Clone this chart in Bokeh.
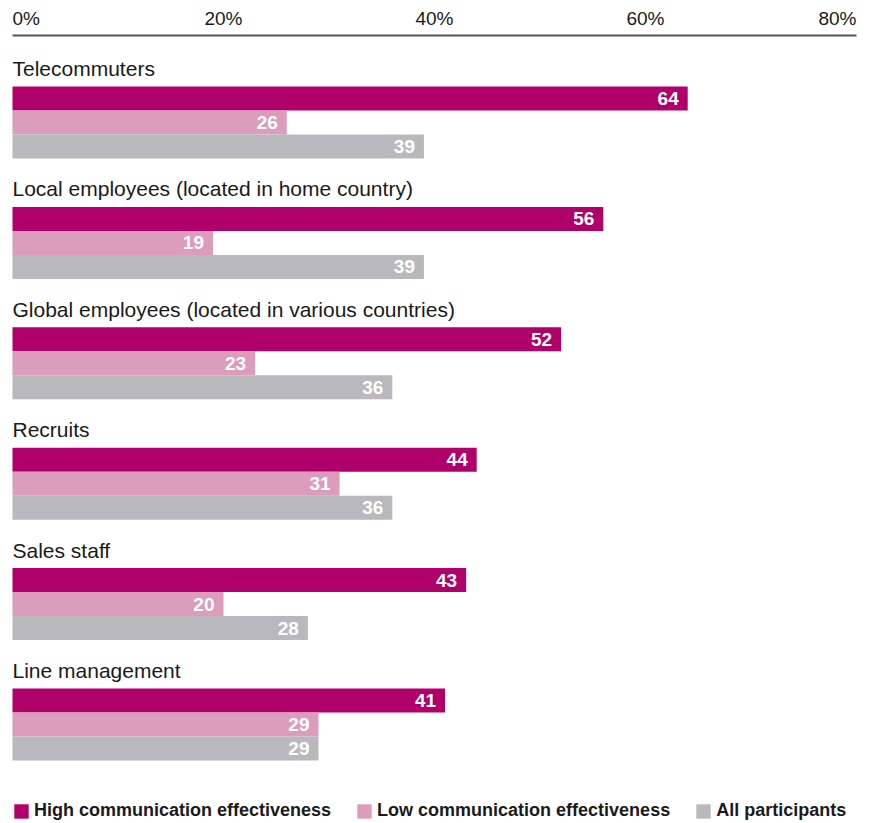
import numpy as np
from bokeh.plotting import figure
from bokeh.models import Range1d, ColumnDataSource, Legend, LegendItem
from bokeh.core.properties import value
from bokeh.embed import file_html
from bokeh.resources import INLINE

categories = [
    "Telecommuters",
    "Local employees (located in home country)",
    "Global employees (located in various countries)",
    "Recruits",
    "Sales staff",
    "Line management",
]
high = [64, 56, 52, 44, 43, 41]
low = [26, 19, 23, 31, 20, 29]
allp = [39, 39, 36, 36, 28, 29]
series_names = ["High communication effectiveness", "Low communication effectiveness", "All participants"]
colors = ["#B0006A", "#DC9CBC", "#B9B9BD"]
tick_values = [0, 20, 40, 60, 80]
tick_labels = ["0%", "20%", "40%", "60%", "80%"]

W, H = 869, 823
x0_px, px_per_unit = 12, 10.55
FONT = "Liberation Sans"

p = figure(width=W, height=H, output_backend="svg", toolbar_location=None,
           x_range=Range1d(-x0_px / px_per_unit, (W - x0_px) / px_per_unit),
           y_range=Range1d(H, 0), min_border=0, outline_line_color=None)
p.axis.visible = False
p.grid.visible = False
p.background_fill_color = "white"
p.border_fill_color = "white"

n = len(categories)
base = 98 + 120.4 * np.arange(n)   # center of first bar in each group (layout)
bar_h = 24

renderers = []
for k, (vals, col) in enumerate(zip([high, low, allp], colors)):
    src = ColumnDataSource(dict(y=base + k * bar_h, right=vals, lab=[str(v) for v in vals]))
    r = p.hbar(y="y", left=0, right="right", height=bar_h, source=src,
               fill_color=col, line_color=None)
    renderers.append(r)
    p.text(x="right", y="y", text="lab", source=src, x_offset=-9,
           text_align="right", text_baseline="middle", text_color="white",
           text_font=value(FONT), text_font_style="bold", text_font_size="19px")

# category labels
p.text(x=[0] * n, y=list(base - 30), text=categories, text_align="left",
       text_baseline="alphabetic", text_color="#1a1a1a",
       text_font=value(FONT), text_font_size="21px")

# top axis
p.segment(x0=[tick_values[0]], x1=[tick_values[-1]], y0=[35], y1=[35],
          line_color="#555555", line_width=2)
aligns = ["left"] + ["center"] * (len(tick_values) - 2) + ["right"]
p.text(x=tick_values, y=[18] * len(tick_values), text=tick_labels,
       text_align=aligns, text_baseline="middle", text_color="#1a1a1a",
       text_font=value(FONT), text_font_size="19px")

legend = Legend(items=[LegendItem(label=nm, renderers=[r]) for nm, r in zip(series_names, renderers)],
                orientation="horizontal", location=(12, 2), padding=0, margin=0,
                spacing=24, glyph_width=18, glyph_height=18, label_standoff=4,
                label_text_font=FONT, label_text_font_style="bold",
                label_text_font_size="18px", label_text_color="#1a1a1a",
                border_line_color=None, background_fill_alpha=0)
p.add_layout(legend)

open("out.html", "w").write(file_html(p, INLINE))
